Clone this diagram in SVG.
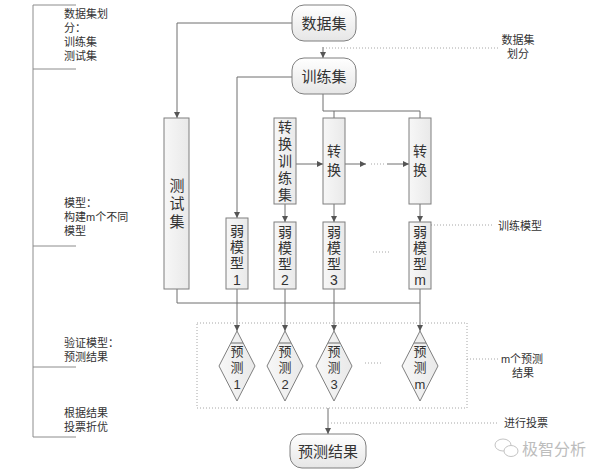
<svg xmlns="http://www.w3.org/2000/svg" width="600" height="476" viewBox="0 0 600 476">
<style>
text{font-family:"Liberation Sans","Noto Sans CJK SC",sans-serif;fill:#333;}
.lbl{font-size:11px;}
.note{font-size:11px;text-anchor:middle;dominant-baseline:central;}
.big{font-size:15px;text-anchor:middle;dominant-baseline:central;fill:#333;}
.v{font-size:14px;text-anchor:middle;dominant-baseline:central;}
.d{font-size:13px;text-anchor:middle;dominant-baseline:central;}
.rbox{fill:url(#gr);stroke:#7f7f7f;stroke-width:1;}
.box{fill:url(#gb);stroke:#7f7f7f;stroke-width:1;}
.dia{fill:url(#gb);stroke:#7f7f7f;stroke-width:1;}
.con{fill:none;stroke:#6f6f6f;stroke-width:1;}
.arr{marker-end:url(#ah);}
.dot{fill:none;stroke:#a6a6a6;stroke-width:1;stroke-dasharray:1 2;}
.br{fill:none;stroke:#8c8c8c;stroke-width:1;}
</style>
<defs>
<linearGradient id="gr" x1="0" y1="0" x2="0" y2="1"><stop offset="0" stop-color="#ffffff"/><stop offset="1" stop-color="#e6e6e6"/></linearGradient>
<linearGradient id="gb" x1="0" y1="0" x2="1" y2="0"><stop offset="0" stop-color="#f7f7f7"/><stop offset="1" stop-color="#e9e9e9"/></linearGradient>
<marker id="ah" markerUnits="userSpaceOnUse" markerWidth="6" markerHeight="6" refX="6" refY="3" orient="auto"><path d="M0,0 L6,3 L0,6 z" fill="#555"/></marker>
</defs>
<rect width="600" height="476" fill="#ffffff"/>

<g id="left-bracket">
<path class="br" d="M76,5 H33 V437 H76 M33,69 H76 M33,246 H76 M33,367 H76"/>
<text class="lbl"><tspan x="64" y="18">数据集划</tspan><tspan x="64" y="32">分：</tspan><tspan x="64" y="46">训练集</tspan><tspan x="64" y="60">测试集</tspan></text>
<text class="lbl"><tspan x="64" y="207">模型：</tspan><tspan x="64" y="221">构建m个不同</tspan><tspan x="64" y="235">模型</tspan></text>
<text class="lbl"><tspan x="64" y="347">验证模型：</tspan><tspan x="64" y="361">预测结果</tspan></text>
<text class="lbl"><tspan x="64" y="417">根据结果</tspan><tspan x="64" y="431">投票折优</tspan></text>
</g>

<g id="connectors">
<path class="con arr" d="M292,23 H177 V118"/>
<path class="con arr" d="M323,47 V58"/>
<path class="con arr" d="M292,77 H237 V218"/>
<path class="con" d="M323,94 V111 H420 V118 M334,111 V118"/>
<path class="con arr" d="M296,164 H323"/>
<path class="con arr" d="M345,164 H366"/>
<path class="dot" d="M371,164 H386"/>
<path class="con arr" d="M387,164 H409"/>
<path class="con arr" d="M285,204 V222"/>
<path class="con arr" d="M334,204 V222"/>
<path class="con arr" d="M420,204 V222"/>
<path class="con" d="M177,289 V303 H420"/>
<path class="con arr" d="M237,289 V331"/>
<path class="con arr" d="M285,289 V331"/>
<path class="con arr" d="M334,289 V331"/>
<path class="con arr" d="M420,289 V331"/>
<path class="con arr" d="M328,408 V434"/>
<path class="dot" d="M323,48 H500"/>
<path class="dot" d="M431,225 H494"/>
<path class="dot" d="M467,359 H498"/>
<path class="dot" d="M328,423 H498"/>
<path class="dot" d="M373,252 H389"/>
<path class="dot" d="M365,363 H383"/>
</g>

<g id="annotations">
<text class="note"><tspan x="518" y="40">数据集</tspan><tspan x="518" y="54">划分</tspan></text>
<text class="note" x="520" y="226">训练模型</text>
<text class="note"><tspan x="522" y="359">m个预测</tspan><tspan x="523" y="373">结果</tspan></text>
<text class="note" x="526" y="423">进行投票</text>
</g>

<g id="dataset">
<rect class="rbox" x="292" y="5" width="64" height="36" rx="12"/>
<text class="big" x="324" y="23">数据集</text>
</g>
<g id="trainset">
<rect class="rbox" x="292" y="58" width="64" height="36" rx="12"/>
<text class="big" x="324" y="76">训练集</text>
</g>

<g id="testset">
<rect class="box" x="164" y="118" width="25" height="171"/>
<text class="big"><tspan x="177" y="185">测</tspan><tspan x="177" y="203">试</tspan><tspan x="177" y="221">集</tspan></text>
</g>

<g id="transform-trainset">
<rect class="box" x="274" y="118" width="22" height="86"/>
<text class="v"><tspan x="285" y="127">转</tspan><tspan x="285" y="144">换</tspan><tspan x="285" y="161">训</tspan><tspan x="285" y="178">练</tspan><tspan x="285" y="195">集</tspan></text>
</g>
<g id="transform-1">
<rect class="box" x="323" y="118" width="22" height="86"/>
<text class="v"><tspan x="334" y="151">转</tspan><tspan x="334" y="170">换</tspan></text>
</g>
<g id="transform-m">
<rect class="box" x="409" y="118" width="22" height="86"/>
<text class="v"><tspan x="420" y="151">转</tspan><tspan x="420" y="170">换</tspan></text>
</g>

<g id="weak-1">
<rect class="box" x="226" y="218" width="22" height="71"/>
<text class="v"><tspan x="237" y="231">弱</tspan><tspan x="237" y="247">模</tspan><tspan x="237" y="263">型</tspan><tspan x="237" y="280">1</tspan></text>
</g>
<g id="weak-2">
<rect class="box" x="274" y="222" width="22" height="67"/>
<text class="v"><tspan x="285" y="232">弱</tspan><tspan x="285" y="248">模</tspan><tspan x="285" y="264">型</tspan><tspan x="285" y="280">2</tspan></text>
</g>
<g id="weak-3">
<rect class="box" x="323" y="222" width="22" height="67"/>
<text class="v"><tspan x="334" y="232">弱</tspan><tspan x="334" y="248">模</tspan><tspan x="334" y="264">型</tspan><tspan x="334" y="280">3</tspan></text>
</g>
<g id="weak-m">
<rect class="box" x="409" y="222" width="22" height="67"/>
<text class="v"><tspan x="420" y="232">弱</tspan><tspan x="420" y="248">模</tspan><tspan x="420" y="264">型</tspan><tspan x="420" y="280">m</tspan></text>
</g>

<g id="predictions-group">
<rect class="dot" x="197" y="323" width="270" height="85"/>
</g>

<g id="pred-1">
<polygon class="dia" points="237,331 255,366 237,401 219,366"/>
<path class="con" d="M231,343 H243"/>
<text class="d"><tspan x="237" y="351">预</tspan><tspan x="237" y="367">测</tspan><tspan x="237" y="384">1</tspan></text>
</g>
<g id="pred-2">
<polygon class="dia" points="285,331 303,366 285,401 267,366"/>
<path class="con" d="M279,343 H291"/>
<text class="d"><tspan x="285" y="351">预</tspan><tspan x="285" y="367">测</tspan><tspan x="285" y="384">2</tspan></text>
</g>
<g id="pred-3">
<polygon class="dia" points="334,331 352,366 334,401 316,366"/>
<path class="con" d="M328,343 H340"/>
<text class="d"><tspan x="334" y="351">预</tspan><tspan x="334" y="367">测</tspan><tspan x="334" y="384">3</tspan></text>
</g>
<g id="pred-m">
<polygon class="dia" points="420,331 438,366 420,401 402,366"/>
<path class="con" d="M414,343 H426"/>
<text class="d"><tspan x="420" y="351">预</tspan><tspan x="420" y="367">测</tspan><tspan x="420" y="384">m</tspan></text>
</g>

<g id="result">
<rect class="rbox" x="290" y="434" width="76" height="34" rx="12"/>
<text class="big" x="328" y="451">预测结果</text>
</g>

<g id="watermark">
<ellipse cx="503" cy="445" rx="8" ry="6" fill="#fff" stroke="#c4c4c4"/>
<ellipse cx="511" cy="451" rx="7" ry="5.5" fill="#fff" stroke="#c4c4c4"/>
<text x="522" y="455" style="font-size:16px;fill:#bdbdbd;">极智分析</text>
</g>
</svg>
